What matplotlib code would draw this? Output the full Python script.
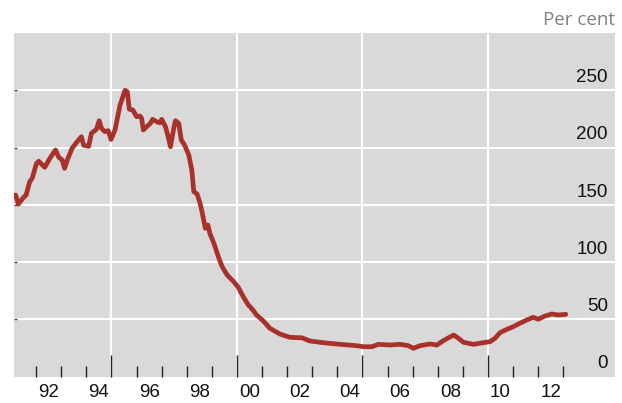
import matplotlib
matplotlib.use("Agg")
import matplotlib.pyplot as plt
import matplotlib.transforms as mtransforms

# data (decimal year, per cent)
years = [1991.18, 1991.29, 1991.5, 1991.6, 1991.74, 1991.84, 1992.01, 1992.1,
         1992.34, 1992.57, 1992.77, 1992.9, 1993.04, 1993.13, 1993.24, 1993.43,
         1993.63, 1993.8, 1993.89, 1994.09, 1994.2, 1994.4, 1994.51, 1994.6,
         1994.74, 1994.87, 1994.98, 1995.14, 1995.34, 1995.54, 1995.63, 1995.71,
         1995.85, 1996.0, 1996.14, 1996.2, 1996.27, 1996.4, 1996.55, 1996.64,
         1996.82, 1996.93, 1997.0, 1997.15, 1997.24, 1997.35, 1997.48, 1997.55,
         1997.68, 1997.78, 1997.91, 1998.08, 1998.2, 1998.28, 1998.41, 1998.53,
         1998.62, 1998.74, 1998.84, 1998.92, 1999.08, 1999.28, 1999.41, 1999.61,
         1999.87, 2000.05, 2000.25, 2000.45, 2000.52, 2000.67, 2000.78, 2001.05,
         2001.31, 2001.71, 2002.11, 2002.58, 2002.91, 2003.44, 2004.1, 2004.77,
         2005.04, 2005.37, 2005.64, 2006.1, 2006.5, 2006.83, 2007.03, 2007.29,
         2007.69, 2007.96, 2008.22, 2008.63, 2008.82, 2009.02, 2009.42, 2009.81,
         2010.08, 2010.28, 2010.48, 2010.75, 2011.01, 2011.27, 2011.54, 2011.8,
         2012.0, 2012.27, 2012.54, 2012.8, 2013.1]
values = [158.5, 150.6, 156.5, 158.5, 170, 173, 186, 188,
          182.7, 191.4, 197.8, 191.4, 189, 181.8, 189, 199.3,
          205, 209.4, 202, 201, 212.4, 215.9, 223.4, 216.8,
          213.8, 214.7, 207, 215.3, 237, 250, 248.7, 233.4,
          232.8, 226.9, 227.5, 225.5, 215.3, 218.2, 221.1, 224.6,
          222.3, 221.6, 224.6, 218.2, 210.9, 200.7, 216.8, 223.4,
          221.1, 206.6, 202.2, 193.4, 180.3, 161.4, 159.4, 151.3,
          142.5, 129.4, 132.3, 125, 116.3, 103.2, 95.9, 88.6,
          82.8, 77.9, 69.7, 62.4, 61, 57, 53.7, 48.5,
          42.1, 37.1, 34.2, 33.8, 31, 29.5, 28.1, 26.9,
          26, 26, 28.1, 27.5, 28.1, 26.9, 24.6, 26.9,
          28.4, 27.5, 31.3, 36.2, 33.4, 29.9, 28.1, 29.5,
          30.4, 33.4, 38.3, 41.2, 43.5, 46.5, 49.3, 51.7,
          50, 52.8, 54.6, 53.7, 54.3]

y_ticks = [0, 50, 100, 150, 200, 250]
x_labels = ["92", "94", "96", "98", "00", "02", "04", "06", "08", "10", "12"]
x_label_years = [1992, 1994, 1996, 1998, 2000, 2002, 2004, 2006, 2008, 2010, 2012]
major_years = [1995, 2000, 2005, 2010]
minor_years = [y for y in range(1992, 2014) if y not in major_years]

num_font = "Liberation Sans"

fig = plt.figure(figsize=(6.22, 4.03), dpi=100)
ax = fig.add_axes([14 / 622, 26.5 / 403, 601 / 622, 343.5 / 403])
ax.set_facecolor("#d9d9d9")
for s in ax.spines.values():
    s.set_visible(False)

ax.set_xlim(1991.116, 2015.06)
ax.set_ylim(0, 300)

# grid lines
for v in y_ticks[1:]:
    ax.axhline(v, color="white", lw=1.5, zorder=1)
for yr in major_years:
    ax.axvline(yr, color="white", lw=1.5, zorder=1)

ax.plot(years, values, color="#a9312c", lw=3.4, solid_joinstyle="round",
        solid_capstyle="round", zorder=3)

# ticks pointing up from the bottom
ax.set_xticks(major_years)
ax.set_xticks(minor_years, minor=True)
ax.tick_params(axis="x", which="major", direction="in", length=16,
               width=1.0, color="#222222", labelbottom=False)
ax.tick_params(axis="x", which="minor", direction="in", length=8,
               width=1.0, color="#222222", labelbottom=False)
ax.set_yticks(y_ticks[1:])
ax.tick_params(axis="y", direction="in", length=2, width=1.0,
               color="#444444", labelleft=False)

# year labels centred on each year
trans = mtransforms.blended_transform_factory(ax.transData, ax.transAxes)
for yr, lab in zip(x_label_years, x_labels):
    ax.text(yr + 0.5, -0.048, lab, transform=trans, ha="center", va="center",
            fontsize=13.5, family=num_font, color="#111111")

# value labels inside the plot, right side, just above grid lines
trans_y = mtransforms.blended_transform_factory(ax.transAxes, ax.transData)
for v in y_ticks:
    ax.text(0.988, v + 3.5, str(v), transform=trans_y, ha="right",
            va="bottom", fontsize=13.5, family=num_font, color="#111111")

fig.text(615 / 622, 1 - 20 / 403, "Per cent", ha="right", va="center",
         fontsize=13.5, family="Open Sans", color="#808080")

fig.savefig("out.png", dpi=100)
